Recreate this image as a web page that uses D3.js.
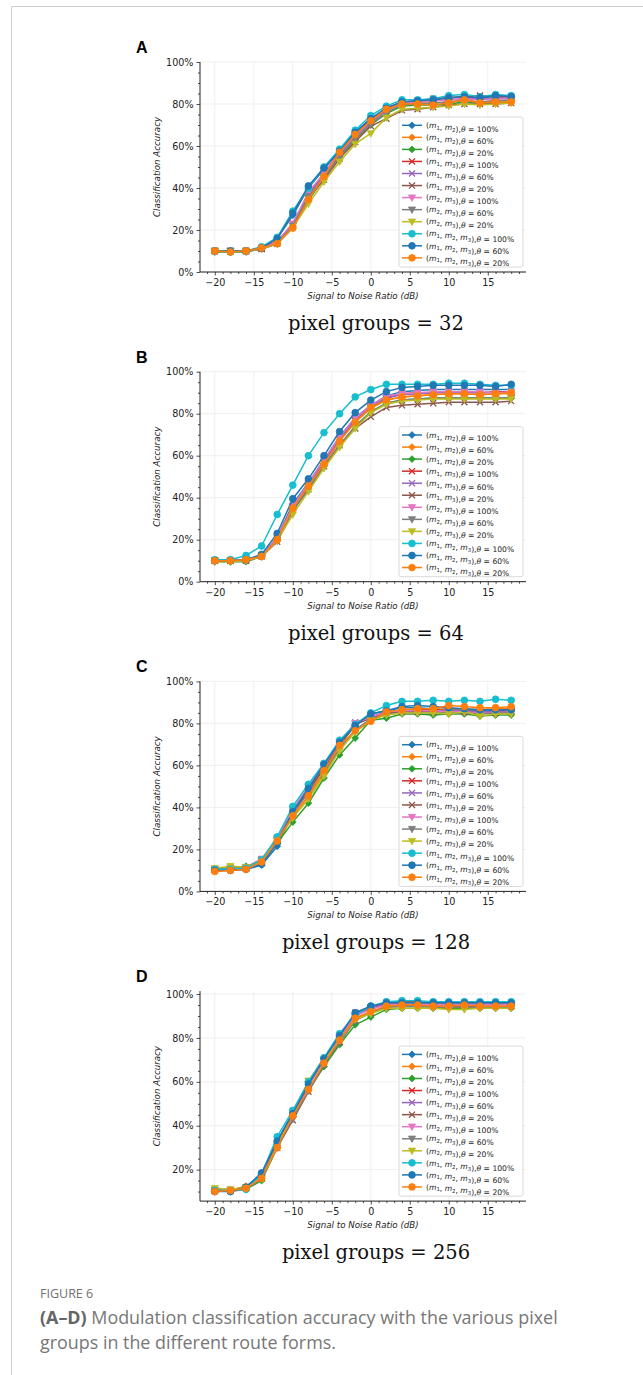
<!DOCTYPE html>
<html>
<head>
<meta charset="utf-8">
<script src="https://cdn.jsdelivr.net/npm/d3@7.9.0/dist/d3.min.js"></script>
<style>
  body { margin: 0; background: #fff; }
  svg { display: block; }
</style>
</head>
<body>
<svg id="fig" width="643" height="1375"></svg>
<script>
// x values (dB)
const snr = [-20, -18, -16, -14, -12, -10, -8, -6, -4, -2, 0, 2, 4, 6, 8, 10, 12, 14, 16, 18];

const seriesLabels = [
  "(m1, m2),θ = 100%", "(m1, m2),θ = 60%", "(m1, m2),θ = 20%",
  "(m1, m3),θ = 100%", "(m1, m3),θ = 60%", "(m1, m3),θ = 20%",
  "(m2, m3),θ = 100%", "(m2, m3),θ = 60%", "(m2, m3),θ = 20%",
  "(m1, m2, m3),θ = 100%", "(m1, m2, m3),θ = 60%", "(m1, m2, m3),θ = 20%"
];
const seriesColors = ["#1f77b4", "#ff7f0e", "#2ca02c", "#d62728", "#9467bd", "#8c564b",
  "#e377c2", "#7f7f7f", "#bcbd22", "#17becf", "#1f77b4", "#ff7f0e"];
const seriesMarkers = ["D", "D", "D", "x", "x", "x", "v", "v", "v", "o", "o", "o"];

// accuracy (%) per series, pixel groups = 32
const groups32 = [
  [10, 10, 10, 11.5, 16, 27, 40, 49, 58, 66.5, 73, 78, 81, 81, 82, 83, 83.5, 83, 83.5, 83.5],
  [10, 9.5, 10, 11.5, 14, 22, 35, 46, 56, 64.5, 71.5, 77, 80, 80.5, 80.5, 81, 82, 81, 81.5, 81.5],
  [9.5, 9.5, 9.5, 11, 13.5, 21, 34, 45, 55, 63, 70, 75.5, 79, 79.5, 79.5, 80, 81, 80.5, 80.5, 81],
  [10, 10, 10, 11.5, 14.5, 23, 37, 47, 57, 65.5, 72.5, 78, 81, 81.5, 82.5, 83, 83.5, 84, 83.5, 83.5],
  [10, 10, 10, 11, 14, 23, 37, 46, 56, 64.5, 71.5, 77, 80.5, 81, 81.5, 82, 82.5, 82.5, 82.5, 83],
  [10, 10, 10, 11, 13.5, 22, 35, 44, 54, 62, 69.5, 73, 77, 77.5, 78.5, 79.5, 80, 80, 80, 80.5],
  [10, 10, 10, 11, 14.5, 23, 38, 47, 57, 65, 72, 77.5, 80.5, 81, 81.5, 82, 82.5, 82, 82.5, 82.5],
  [10, 10, 10, 11, 13.5, 22, 36, 45, 55, 63.5, 70.5, 76, 79.5, 80, 80.5, 81, 81.5, 81, 81.5, 82],
  [10, 10, 10, 11, 13.5, 21, 32.5, 43, 52.5, 61, 66, 73.5, 77.5, 78, 78.5, 79, 80, 79.5, 80, 80.5],
  [10, 9.5, 10, 12, 16.5, 29, 40, 50, 58.5, 67.5, 74.5, 79, 82, 82, 82.5, 84, 84.5, 83.5, 84.5, 84],
  [10, 10, 10, 11.5, 16, 28, 41, 49.5, 57.5, 66.5, 73, 78, 81, 81.5, 82, 83, 83.5, 83, 84, 83.5],
  [10, 9.5, 10, 11.5, 13.5, 21, 34.5, 45.5, 57, 65.5, 72, 77.5, 80, 80, 79.5, 80.5, 82, 80.5, 81, 81]
];

// pixel groups = 64
const groups64 = [
  [10, 10, 10.5, 12.5, 21, 37, 47, 58, 69, 78, 84, 88.5, 90.5, 91, 91.5, 91.5, 91.5, 91.5, 91.5, 91.5],
  [10, 10, 10, 12, 20, 35, 45, 56, 67, 76, 82.5, 86.5, 88, 88.5, 89, 89.5, 89.5, 89, 89.5, 89.5],
  [9.5, 9.5, 9.5, 12, 19.5, 34, 44, 55, 65, 74, 81, 85, 86.5, 87, 87.5, 87.5, 87.5, 87.5, 87.5, 87.5],
  [10, 10, 10.5, 12.5, 21, 36, 46, 57, 68, 77, 83, 87.5, 89.5, 90, 90, 90.5, 90.5, 90, 90.5, 90.5],
  [10, 10, 10.5, 12.5, 20.5, 35.5, 46, 57, 68, 77, 83, 87.5, 89, 89.5, 90, 90, 90, 90, 90, 90],
  [10, 10, 10, 12, 19, 34, 44, 55, 65, 73, 78.5, 83, 84, 84.5, 85, 85.5, 85.5, 85.5, 85.5, 86],
  [10, 10, 10.5, 12.5, 21, 36, 47, 58, 69, 78, 84, 88.5, 89.5, 90, 90.5, 90.5, 90.5, 90.5, 90, 90.5],
  [10, 10, 10, 12, 19.5, 34, 44, 55, 65, 74, 80.5, 85, 86.5, 87, 87.5, 87.5, 87.5, 87.5, 87.5, 87.5],
  [9.5, 9.5, 10, 12, 19.5, 32, 43, 54, 64, 73, 80.5, 84.5, 86, 86.5, 87, 87, 87, 87, 87, 87],
  [10.5, 10.5, 12.5, 17, 32, 46, 60, 71, 80, 88, 91.5, 94, 94, 94, 94, 94.5, 94.5, 94, 93.5, 93.5],
  [10, 10, 10.5, 13, 23, 39.5, 49, 60, 71.5, 80.5, 86.5, 90.5, 92.5, 93, 93.5, 93.5, 93.5, 93.5, 93, 94],
  [10, 10, 10.5, 12, 20, 35, 45.5, 56, 67, 76, 83, 86.5, 88, 88.5, 89, 89.5, 89.5, 89, 89.5, 90]
];

// pixel groups = 128
const groups128 = [
  [10.5, 10.5, 10.5, 12.5, 21.5, 37, 49, 60, 70, 79, 84.5, 86, 87.5, 87.5, 87, 86.5, 86.5, 86, 86, 86.5],
  [10, 10, 10.5, 14, 23.5, 36, 45, 56, 68, 77, 82, 85, 86.5, 86.5, 86.5, 87, 87, 86.5, 87, 87],
  [10, 10.5, 12, 14, 23, 33, 42, 54, 65, 73, 81.5, 82.5, 84.5, 84.5, 84, 84.5, 84.5, 83.5, 84, 84],
  [10.5, 11, 11, 14.5, 24, 38, 48, 59, 70, 79.5, 83, 85.5, 86, 86.5, 86.5, 86, 85.5, 85.5, 85.5, 86],
  [10.5, 11, 11, 15, 24.5, 38.5, 49, 59.5, 70.5, 80.5, 83, 85.5, 86, 86, 86, 86, 86, 85.5, 85.5, 86],
  [10.5, 11, 11, 14.5, 24, 37.5, 48, 58.5, 69.5, 79.5, 82.5, 85, 85.5, 85.5, 85.5, 85.5, 85.5, 85, 85, 85.5],
  [10.5, 11, 11.5, 15.5, 25.5, 39, 50, 60, 71, 80, 83, 85.5, 86, 86, 86, 85.5, 85.5, 85, 85, 85.5],
  [10.5, 11, 11.5, 15, 24.5, 37, 47, 57, 68, 77, 82, 84.5, 85, 85, 85, 85, 85, 84.5, 85, 85],
  [11, 12, 11.5, 14.5, 24, 35, 44, 55, 67, 76, 81.5, 84, 85, 85, 85, 84.5, 85.5, 83.5, 84.5, 84.5],
  [10.5, 10.5, 11, 15, 26, 40.5, 51, 61, 72, 79.5, 85, 88.5, 90.5, 90.5, 91, 90.5, 91, 90.5, 91.5, 91],
  [10, 10, 10.5, 13, 23, 38, 49, 60.5, 71, 79, 84.5, 86, 88, 88.5, 88, 87.5, 87, 86.5, 86.5, 86.5],
  [9.5, 10, 10.5, 14, 24, 36, 45.5, 57.5, 69.5, 76.5, 81, 85.5, 86.5, 87, 87, 88.5, 88, 87.5, 87.5, 88]
];

// pixel groups = 256
const groups256 = [
  [10.5, 10.5, 12, 18, 33, 46, 59, 70.5, 80.5, 91, 94.5, 96, 96.5, 96.5, 96, 96, 96, 96, 96, 96],
  [10.5, 10.5, 12.5, 17, 31, 45, 60, 71, 79.5, 89, 92, 94.5, 95, 95, 94.5, 94.5, 94.5, 94.5, 94, 94.5],
  [10.5, 10.5, 11, 15, 30, 44, 56, 67, 77, 86, 89.5, 93, 93.5, 93.5, 93.5, 93.5, 93.5, 93.5, 93.5, 93.5],
  [10.5, 10.5, 12, 17.5, 32, 45.5, 58.5, 70, 80.5, 91.5, 94, 96, 96.5, 96.5, 96, 96, 96, 96, 96, 96],
  [10.5, 10.5, 12, 17, 31, 45, 58, 70, 80, 90.5, 93.5, 95.5, 96, 96, 95.5, 95.5, 95.5, 95.5, 95.5, 95.5],
  [10.5, 10.5, 11.5, 16, 30, 42.5, 55.5, 68, 78, 88, 91.5, 94, 94.5, 94.5, 94.5, 94.5, 94.5, 94.5, 94.5, 94.5],
  [10.5, 10.5, 12, 17, 30, 46.5, 59, 70, 80, 90, 93, 95, 95.5, 95.5, 95, 95, 95, 95, 95, 95],
  [10.5, 10, 11, 16, 31, 43, 56, 68, 78, 88, 91.5, 94, 94.5, 94.5, 94, 94, 94, 94, 94, 94],
  [11.5, 11, 12, 16, 31, 45, 60.5, 70, 79, 88.5, 91, 93.5, 93.5, 93.5, 93.5, 93, 93, 93.5, 93.5, 93.5],
  [10.5, 10.5, 11, 18, 35, 47, 60, 71, 82, 90.5, 94.5, 96.5, 97, 97, 96.5, 96.5, 96.5, 96.5, 96.5, 96.5],
  [10, 10, 12, 18.5, 33, 45.5, 59, 70.5, 81, 91.5, 94.5, 96, 96, 96, 96, 96, 96, 96, 96, 96],
  [10, 10.5, 11.5, 16, 30, 44.5, 56.5, 68.5, 79, 89, 92, 94.5, 95, 95, 94.5, 94.5, 95, 94.5, 94.5, 94.5]
];

const panels = [
  { letter: "A", groups: "32", data: groups32, ylim: [0, 1] },
  { letter: "B", groups: "64", data: groups64, ylim: [0, 1] },
  { letter: "C", groups: "128", data: groups128, ylim: [0, 1] },
  { letter: "D", groups: "256", data: groups256, ylim: null }
];

const svg = d3.select("#fig");
svg.append("rect").attr("width", 643).attr("height", 1375).attr("fill", "#fff");

// thin page frame
svg.append("path")
  .attr("d", "M11.5,1375 V6.5 H643")
  .attr("fill", "none").attr("stroke", "#cfcfcf").attr("stroke-width", 1);

const left = 200, right = 526, plotH = 210;
const tickFont = "'DejaVu Sans', sans-serif";
const inkColor = "#222";
const fmtTick = d => (d < 0 ? "\u2212" + Math.abs(d) : String(d));

// marker path generator
function markerPath(type, s) {
  if (type === "o") return d3.symbol(d3.symbolCircle, Math.PI * s * s)();
  if (type === "D") return `M0,${-s}L${s},0L0,${s}L${-s},0Z`;
  if (type === "v") { const h = s * 1.05; return `M${-h},${-h * 0.75}L${h},${-h * 0.75}L0,${h * 1.05}Z`; }
  if (type === "x") { const h = s * 0.9; return `M${-h},${-h}L${h},${h}M${-h},${h}L${h},${-h}`; }
}

function drawMarker(g, type, color, x, y, s) {
  const p = g.append("path").attr("d", markerPath(type, s)).attr("transform", `translate(${x},${y})`);
  if (type === "x") p.attr("fill", "none").attr("stroke", color).attr("stroke-width", 1.3);
  else p.attr("fill", color).attr("stroke", color).attr("stroke-width", 0.8);
}

// legend label with math-ish italics and subscripts
function writeLabel(t, label) {
  const parts = label.match(/m\d|θ|[^mθ]+/g);
  parts.forEach(p => {
    if (/^m\d$/.test(p)) {
      t.append("tspan").attr("font-style", "italic").text("m");
      t.append("tspan").attr("font-size", "5.4px").attr("dy", 1.8).text(p[1]);
      t.append("tspan").attr("dy", -1.8).text("");
    } else if (p === "θ") {
      t.append("tspan").attr("font-style", "italic").text("θ");
    } else {
      t.append("tspan").text(p);
    }
  });
}

panels.forEach((panel, pi) => {
  const top = 62 + pi * 309.7;
  const bottom = top + plotH;
  const g = svg.append("g");

  let ydom = panel.ylim;
  if (!ydom) {
    const all = panel.data.flat().map(v => v / 100);
    const [lo, hi] = d3.extent(all);
    const pad = (hi - lo) * 0.05;
    ydom = [lo - pad, hi + pad];
  }
  const x = d3.scaleLinear().domain([-21.9, 19.9]).range([left, right]);
  const y = d3.scaleLinear().domain(ydom).range([bottom, top]);

  const majorX = [-20, -15, -10, -5, 0, 5, 10, 15];
  const majorY = [0, 0.2, 0.4, 0.6, 0.8, 1.0].filter(v => v >= ydom[0] - 1e-9 && v <= ydom[1] + 1e-9);
  const minorX = d3.range(-21, 20, 1).filter(v => !majorX.includes(v));
  const minorY = d3.range(0, 1.001, 0.05).map(v => +v.toFixed(2))
    .filter(v => v >= ydom[0] && v <= ydom[1] && !majorY.some(m => Math.abs(m - v) < 1e-6));

  // grid
  g.append("g").selectAll("line").data(majorX).join("line")
    .attr("x1", d => x(d)).attr("x2", d => x(d)).attr("y1", top).attr("y2", bottom)
    .attr("stroke", "#ebebeb").attr("stroke-width", 0.8);
  g.append("g").selectAll("line").data(majorY).join("line")
    .attr("x1", left).attr("x2", right).attr("y1", d => y(d)).attr("y2", d => y(d))
    .attr("stroke", "#ebebeb").attr("stroke-width", 0.8);

  // series
  panel.data.forEach((vals, si) => {
    const pts = snr.map((s, i) => [x(s), y(vals[i] / 100)]);
    g.append("path")
      .attr("d", d3.line()(pts))
      .attr("fill", "none").attr("stroke", seriesColors[si]).attr("stroke-width", 1.5);
    pts.forEach(p => drawMarker(g, seriesMarkers[si], seriesColors[si], p[0], p[1], 3.4));
  });

  // axes
  const xAxis = g.append("g").attr("transform", `translate(0,${bottom})`)
    .call(d3.axisBottom(x).tickValues(majorX).tickFormat(fmtTick).tickSize(3.5).tickPadding(3.5));
  g.append("g").attr("transform", `translate(0,${bottom})`)
    .call(d3.axisBottom(x).tickValues(minorX).tickFormat("").tickSize(2))
    .call(a => a.select(".domain").remove());
  const yAxis = g.append("g").attr("transform", `translate(${left},0)`)
    .call(d3.axisLeft(y).tickValues(majorY).tickFormat(d3.format(".0%")).tickSize(3.5).tickPadding(3));
  g.append("g").attr("transform", `translate(${left},0)`)
    .call(d3.axisLeft(y).tickValues(minorY).tickFormat("").tickSize(2))
    .call(a => a.select(".domain").remove());

  g.selectAll(".domain").attr("stroke", inkColor).attr("stroke-width", 1);
  g.selectAll(".tick line").attr("stroke", inkColor).attr("stroke-width", 0.8);
  g.selectAll("g.tick text").style("font-family", tickFont).style("font-size", "9.6px").attr("fill", inkColor);
  xAxis.select(".domain").attr("d", `M${left},0H${right}`);
  yAxis.select(".domain").attr("d", `M0,${bottom}V${top}`);

  // axis labels
  g.append("text").attr("x", (left + right) / 2).attr("y", bottom + 27)
    .attr("text-anchor", "middle").style("font-family", tickFont).attr("font-style", "italic")
    .style("font-size", "8.7px").attr("fill", inkColor).text("Signal to Noise Ratio (dB)");
  g.append("text").attr("transform", `translate(160,${(top + bottom) / 2}) rotate(-90)`)
    .attr("text-anchor", "middle").style("font-family", tickFont).attr("font-style", "italic")
    .style("font-size", "8.7px").attr("fill", inkColor).text("Classification Accuracy");

  // panel letter
  g.append("text").attr("x", 136).attr("y", top - 9)
    .style("font-family", "'Liberation Sans', Arial, sans-serif").attr("font-weight", "bold")
    .style("font-size", "16px").attr("fill", "#000").text(panel.letter);

  // legend
  const lw = 124, lh = 150;
  const lx = right - 3 - lw, ly = bottom - 5 - lh;
  const lg = g.append("g");
  lg.append("rect").attr("x", lx).attr("y", ly).attr("width", lw).attr("height", lh)
    .attr("rx", 2).attr("fill", "#fff").attr("fill-opacity", 0.85)
    .attr("stroke", "#d0d0d0").attr("stroke-width", 0.8);
  seriesLabels.forEach((lab, si) => {
    const cy = ly + 8.3 + si * 12.05;
    lg.append("line").attr("x1", lx + 3).attr("x2", lx + 23).attr("y1", cy).attr("y2", cy)
      .attr("stroke", seriesColors[si]).attr("stroke-width", 1.5);
    drawMarker(lg, seriesMarkers[si], seriesColors[si], lx + 13, cy, 3.4);
    const t = lg.append("text").attr("x", lx + 27).attr("y", cy + 2.7)
      .style("font-family", tickFont).style("font-size", "7.6px").attr("fill", inkColor);
    writeLabel(t, lab);
  });

  // subtitle
  g.append("text").attr("x", 376).attr("y", bottom + 58)
    .attr("text-anchor", "middle").style("font-family", "'DejaVu Serif', serif")
    .style("font-size", "19.5px").attr("fill", "#111").text(`pixel groups = ${panel.groups}`);
});

// caption
const capFont = "'Open Sans', Lato, sans-serif";
svg.append("text").attr("x", 40).attr("y", 1298)
  .style("font-family", capFont).style("font-size", "12.5px")
  .attr("fill", "#707070").text("FIGURE 6");
const cap1 = svg.append("text").attr("x", 40).attr("y", 1324)
  .style("font-family", capFont).style("font-size", "17.9px").attr("fill", "#777");
cap1.append("tspan").attr("font-weight", "bold").attr("fill", "#666").text("(A\u2013D)");
cap1.append("tspan").text(" Modulation classification accuracy with the various pixel");
svg.append("text").attr("x", 40).attr("y", 1349)
  .style("font-family", capFont).style("font-size", "17.9px").attr("fill", "#777")
  .text("groups in the different route forms.");
</script>
</body>
</html>
